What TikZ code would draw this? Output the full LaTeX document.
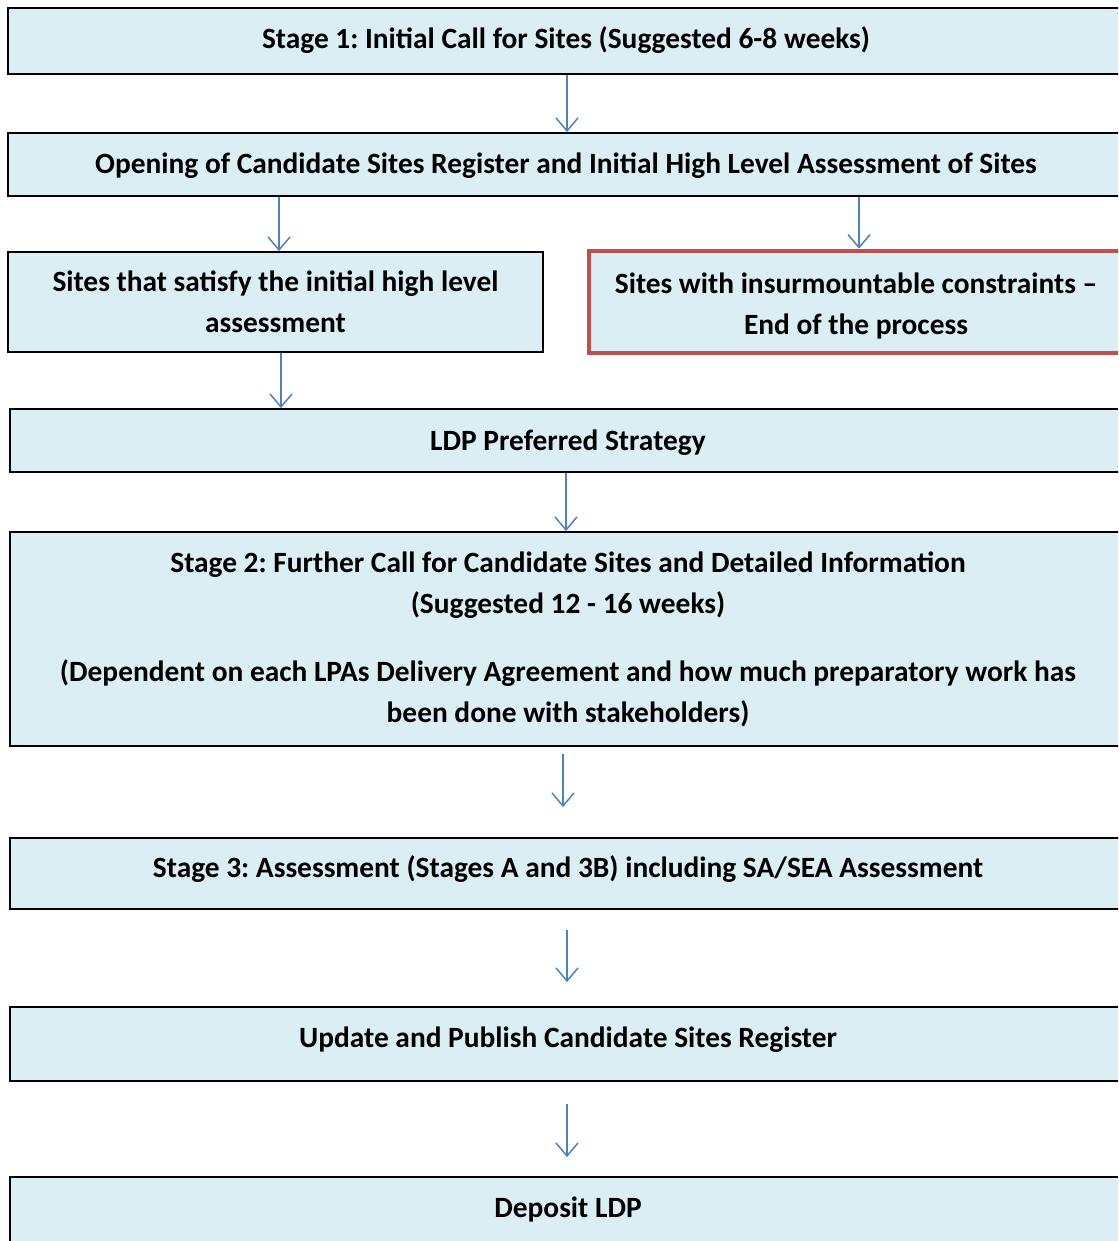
\documentclass[tikz,border=0pt]{standalone}
\usepackage{fontspec}
\setmainfont{Carlito}
\usetikzlibrary{arrows.meta}
\definecolor{boxfill}{HTML}{DAEEF3}
\definecolor{arrblue}{HTML}{4F81BD}
\definecolor{endred}{HTML}{C0504D}
\newcommand{\shifttxt}[2]{\raisebox{#1}[0pt][0pt]{#2}}
\tikzset{
  x=1pt, y=-1pt,
  box/.style={draw=black, line width=1.8pt, fill=boxfill, inner sep=0pt, align=center,
    font=\fontsize{29.4}{41}\selectfont\bfseries\frenchspacing},
  endbox/.style={box, draw=endred, line width=4.5pt},
  arr/.style={draw=arrblue, line width=1.5pt, -{Straight Barb[length=13pt,width=22pt,line width=1.5pt]}},
}
\begin{document}
\begin{tikzpicture}
\useasboundingbox (0,0) rectangle (1118,1241);
\clip (0,0) rectangle (1118,1241);
\node[box, minimum width=1116pt, minimum height=66pt] (b1) at (566,41) {\shifttxt{-8pt}{Stage 1: Initial Call for Sites (Suggested 6-8 weeks)}};
\node[box, minimum width=1116pt, minimum height=63pt] (b2) at (566,164.5) {\shifttxt{-9.5pt}{Opening of Candidate Sites Register and Initial High Level Assessment of Sites}};
\node[box, minimum width=535pt, minimum height=100pt] (b3) at (275.5,302) {Sites that satisfy the initial high level\\assessment};
\node[endbox, minimum width=534pt, minimum height=102pt, text depth=0pt] (b4) at (856,302) {\rule{0pt}{23pt}Sites with insurmountable constraints –\\End of the process};
\node[box, minimum width=1116pt, minimum height=63pt] (b5) at (568,440.5) {\shifttxt{-9.5pt}{LDP Preferred Strategy}};
\node[box, minimum width=1116pt, minimum height=214pt] (b6) at (568,639) {Stage 2: Further Call for Candidate Sites and Detailed Information\\(Suggested 12 - 16 weeks)\\[27pt](Dependent on each LPAs Delivery Agreement and how much preparatory work has\\been done with stakeholders)};
\node[box, minimum width=1116pt, minimum height=71pt] (b7) at (568,873.5) {\shifttxt{-3.5pt}{Stage 3: Assessment (Stages A and 3B) including SA/SEA Assessment}};
\node[box, minimum width=1116pt, minimum height=74pt] (b8) at (568,1044) {\shifttxt{-3.5pt}{Update and Publish Candidate Sites Register}};
\node[box, minimum width=1116pt, minimum height=66pt] (b9) at (568,1210) {\shifttxt{-7.5pt}{Deposit LDP}};
\draw[arr] ([xshift=1pt]b1.south) -- ([xshift=1pt]b2.north);
\draw[arr] (b2.south -| 279,0) -- (b3.north -| 279,0);
\draw[arr] (b2.south -| 859,0) -- (b4.north -| 859,0);
\draw[arr] (b3.south -| 281,0) -- (b5.north -| 281,0);
\draw[arr] ([xshift=-2pt]b5.south) -- ([xshift=-2pt]b6.north);
\draw[arr, shorten <=7pt, shorten >=30pt] ([xshift=-5pt]b6.south) -- ([xshift=-5pt]b7.north);
\draw[arr, shorten <=20pt, shorten >=24pt] ([xshift=-1pt]b7.south) -- ([xshift=-1pt]b8.north);
\draw[arr, shorten <=22pt, shorten >=19pt] ([xshift=-1pt]b8.south) -- ([xshift=-1pt]b9.north);
\end{tikzpicture}
\end{document}
